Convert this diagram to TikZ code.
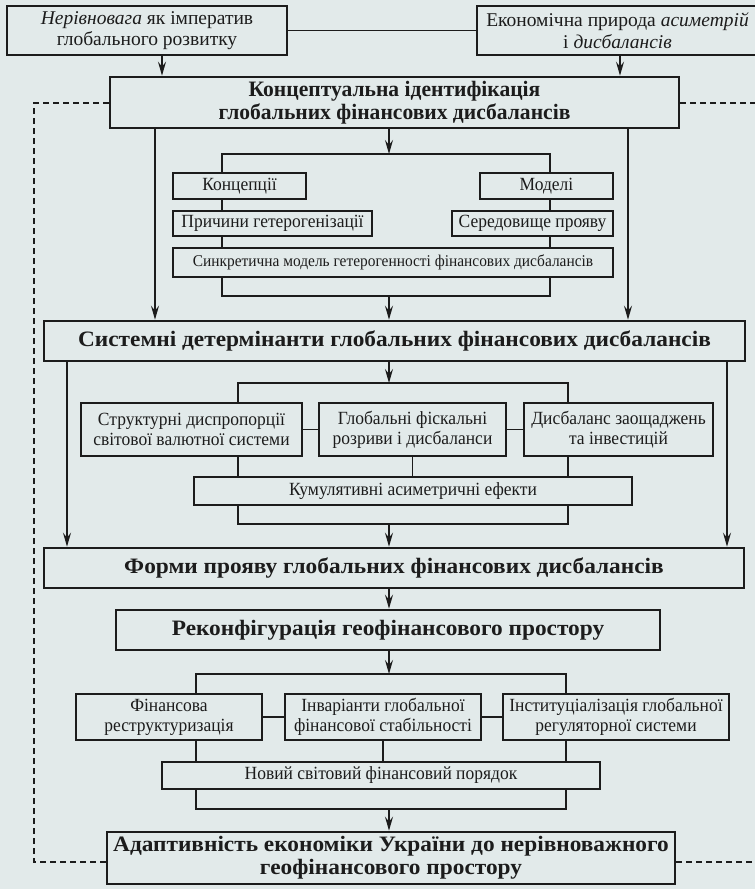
\documentclass[tikz,border=0pt]{standalone}
\usepackage{fontspec}
\setmainfont{Liberation Serif}
\newfontfamily\regf[FakeStretch=0.94]{Liberation Serif}
\newfontfamily\cbold[FakeStretch=0.98]{Liberation Serif Bold}
\newfontfamily\mbold[FakeStretch=1.06]{Liberation Serif Bold}
\usetikzlibrary{arrows.meta,calc}
\pgfdeclarelayer{back}
\pgfsetlayers{back,main}
\definecolor{bgc}{HTML}{E2EAEA}
\definecolor{ink}{HTML}{1C1C1C}
\begin{document}
\begin{tikzpicture}[x=1pt,y=-1pt,
  box/.style={draw=ink, line width=2pt, fill=bgc, inner sep=0pt, align=center, text=ink,
    font=\regf\fontsize{18.6}{20}\selectfont},
  topbox/.style={box, font=\fontsize{19.5}{21.5}\selectfont},
  mainbox/.style={box, line width=2.6pt, font=\mbold\fontsize{22}{23}\selectfont},
  cbox/.style={mainbox, font=\cbold\fontsize{22}{23}\selectfont},
  smallbox/.style={box, font=\regf\fontsize{16.4}{17}\selectfont},
  conn/.style={draw=ink, line width=1.6pt},
  arr/.style={conn, -{Stealth[length=14pt,width=8pt,inset=5pt]}},
  dashline/.style={draw=ink, line width=1.4pt, dash pattern=on 6pt off 4pt},
]
\useasboundingbox (0,0) rectangle (755,889);
\clip (0,0) rectangle (755,889);
\begin{pgfonlayer}{back}
\fill[bgc] (0,0) rectangle (755,889);
\end{pgfonlayer}

% named coordinates
\coordinate (xa) at (162,0);
\coordinate (xb) at (620,0);
\coordinate (xm) at (389,0);
\coordinate (xc1) at (155,0);
\coordinate (xc2) at (628,0);
\coordinate (xd1) at (67,0);
\coordinate (xd2) at (727,0);
\coordinate (xl) at (34,0);
\coordinate (yd1) at (0,103);
\coordinate (yd2) at (0,862);
\coordinate (re1) at (760,103);
\coordinate (re2) at (760,862);
\coordinate (b1t) at (222,154);
\coordinate (b1b) at (550,296);
\coordinate (b2t) at (238,383);
\coordinate (b2b) at (568,524);
\coordinate (b3t) at (196,674);
\coordinate (b3b) at (566,809);

% boxes
\node[topbox, minimum width=280, minimum height=49] (A) at (147,30.5)
  {\textit{Нерівновага} як імператив\\глобального розвитку};
\node[topbox, minimum width=281, minimum height=49] (B) at (617.5,30.5)
  {Економічна природа \textit{асиметрій}\\і \textit{дисбалансів}};
\node[cbox, minimum width=569, minimum height=51] (C) at (394.5,102.5)
  {Концептуальна ідентифікація\\глобальних фінансових дисбалансів};
\node[box, minimum width=133, minimum height=26] (K1) at (239.5,186) {Концепції};
\node[box, minimum width=133, minimum height=26] (K2) at (546.5,186) {Моделі};
\node[box, minimum width=199, minimum height=25] (K3) at (272.5,223.5) {Причини гетерогенізації};
\node[box, minimum width=161, minimum height=25] (K4) at (532.5,223.5) {Середовище прояву};
\node[smallbox, minimum width=440, minimum height=29] (K5) at (393,262.5)
  {Синкретична модель гетерогенності фінансових дисбалансів};
\node[mainbox, minimum width=701, minimum height=40] (D) at (394.5,341)
  {Системні детермінанти глобальних фінансових дисбалансів};
\node[box, minimum width=221, minimum height=53] (S1) at (191.5,429.5)
  {Структурні диспропорції\\світової валютної системи};
\node[box, minimum width=187, minimum height=53] (S2) at (412.5,429.5)
  {Глобальні фіскальні\\розриви і дисбаланси};
\node[box, minimum width=189, minimum height=53] (S3) at (618.5,429.5)
  {Дисбаланс заощаджень\\та інвестицій};
\node[box, minimum width=438, minimum height=28] (S4) at (413,491)
  {Кумулятивні асиметричні ефекти};
\node[mainbox, minimum width=700, minimum height=40] (E) at (394,568)
  {Форми прояву глобальних фінансових дисбалансів};
\node[mainbox, minimum width=544, minimum height=40] (F) at (388,630)
  {Реконфігурація геофінансового простору};
\node[box, minimum width=186, minimum height=46] (R1) at (169,717)
  {Фінансова\\реструктуризація};
\node[box, minimum width=196, minimum height=46] (R2) at (383,717)
  {Інваріанти глобальної\\фінансової стабільності};
\node[box, minimum width=226, minimum height=46] (R3) at (616,717)
  {Інституціалізація глобальної\\регуляторної системи};
\node[box, minimum width=438, minimum height=27] (R4) at (381,775.5)
  {Новий світовий фінансовий порядок};
\node[mainbox, minimum width=568, minimum height=52] (G) at (391,858)
  {Адаптивність економіки України до нерівноважного\\геофінансового простору};

% frames behind boxes
\begin{pgfonlayer}{back}
\draw[conn] (b1t) rectangle (b1b);
\draw[conn] (b2t) rectangle (b2b);
\draw[conn] (b3t) rectangle (b3b);
\draw[conn] (S2.south) -- (S2.south |- S4.north);
\draw[conn] (R2.south) -- (R2.south |- R4.north);
\end{pgfonlayer}

% connectors
\draw[conn] (A.east) -- (B.west);
\draw[conn] (S1.east) -- (S2.west);
\draw[conn] (S2.east) -- (S3.west);
\draw[conn] (R1.east) -- (R2.west);
\draw[conn] (R2.east) -- (R3.west);

\draw[arr] (xa |- A.south) -- (xa |- C.north);
\draw[arr] (xb |- B.south) -- (xb |- C.north);
\draw[arr] (xc1 |- C.south) -- (xc1 |- D.north);
\draw[arr] (xc2 |- C.south) -- (xc2 |- D.north);
\draw[arr] (xm |- C.south) -- (xm |- b1t);
\draw[arr] (xm |- b1b) -- (xm |- D.north);
\draw[arr] (xd1 |- D.south) -- (xd1 |- E.north);
\draw[arr] (xd2 |- D.south) -- (xd2 |- E.north);
\draw[arr] (xm |- D.south) -- (xm |- b2t);
\draw[arr] (xm |- b2b) -- (xm |- E.north);
\draw[arr] (xm |- E.south) -- (xm |- F.north);
\draw[arr] (xm |- F.south) -- (xm |- b3t);
\draw[arr] (xm |- b3b) -- (xm |- G.north);

% dashed feedback lines
\draw[dashline] (C.west |- yd1) -- (xl |- yd1) -- (xl |- yd2) -- (G.west |- yd2);
\draw[dashline] (C.east |- yd1) -- (re1);
\draw[dashline] (G.east |- yd2) -- (re2);
\end{tikzpicture}
\end{document}
